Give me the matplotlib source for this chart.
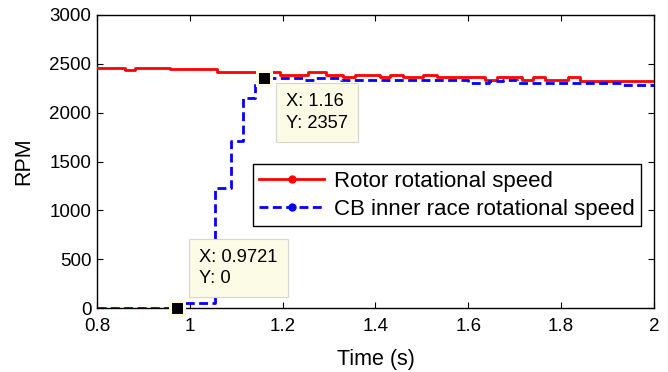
import matplotlib
matplotlib.use("Agg")
import matplotlib.pyplot as plt
from matplotlib.lines import Line2D
from matplotlib.ticker import FormatStrFormatter

plt.rcParams['font.family'] = ['Liberation Sans', 'DejaVu Sans']

# rotor speed (step changes)
rotor_t = [0.800, 0.860, 0.882, 0.957, 1.058, 1.195, 1.255, 1.293, 1.330, 1.355,
           1.410, 1.431, 1.459, 1.502, 1.532, 1.636, 1.662, 1.716, 1.739, 1.765,
           1.815, 1.840, 2.000]
rotor_rpm = [2455, 2440, 2458, 2445, 2415, 2390, 2415, 2390, 2365, 2390,
             2365, 2390, 2365, 2390, 2362, 2335, 2362, 2335, 2362, 2335,
             2362, 2325, 2325]

# CB inner race speed
inner_t = [0.800, 0.975, 1.054, 1.088, 1.114, 1.140, 1.160, 1.245, 1.270, 1.325,
           1.350, 1.600, 1.645, 1.675, 1.705, 1.933, 2.000]
inner_rpm = [0, 55, 1230, 1710, 2150, 2330, 2357, 2330, 2355, 2330,
             2335, 2300, 2325, 2330, 2300, 2283, 2270]

# data tips
tip_x = [0.9721, 1.16]
tip_y = [0, 2357]
tip_labels = ["X: 0.9721\nY: 0", "X: 1.16\nY: 2357"]

x_ticks = [0.8, 1.0, 1.2, 1.4, 1.6, 1.8, 2.0]
y_ticks = [0, 500, 1000, 1500, 2000, 2500, 3000]

fig = plt.figure(figsize=(6.68, 3.72), dpi=100)
ax = fig.add_axes([0.1452, 0.172, 0.8338, 0.7877])

ax.plot(rotor_t, rotor_rpm, color='#ff0000', lw=2.0, drawstyle='steps-post', zorder=3)
ax.plot(inner_t, inner_rpm, color='#0000ff', lw=2.0, ls='--', dashes=(3.2, 1.6),
        drawstyle='steps-post', zorder=3)

# data tip markers and boxes
ax.plot(tip_x, tip_y, ls='none', marker='s', ms=10, mfc='black', mec='#fbfbe0',
        mew=2.2, zorder=6, clip_on=False)
tip_style = dict(boxstyle='square,pad=0.55', fc='#fbfbe6', ec='#d6d6cc', lw=0.8)
ax.annotate(tip_labels[0], xy=(tip_x[0], tip_y[0]), xytext=(16, 15),
            textcoords='offset points', ha='left', va='bottom', fontsize=13.2,
            linespacing=1.35, bbox=tip_style, zorder=7)
ax.annotate(tip_labels[1], xy=(tip_x[1], tip_y[1]), xytext=(15.5, -11),
            textcoords='offset points', ha='left', va='top', fontsize=13.2,
            linespacing=1.35, bbox=tip_style, zorder=7)

ax.set_xlim(0.8, 2.0)
ax.set_ylim(0, 3000)
ax.set_xticks(x_ticks)
ax.set_yticks(y_ticks)
ax.xaxis.set_major_formatter(FormatStrFormatter('%g'))
ax.tick_params(direction='in', length=4, width=0.8, top=True, right=True,
               labelsize=13.5)
ax.tick_params(axis='x', pad=7.5)
ax.tick_params(axis='y', pad=4)
for s in ax.spines.values():
    s.set_linewidth(1.0)

ax.set_xlabel("Time (s)", fontsize=15.5, labelpad=10)
ax.set_ylabel("RPM", fontsize=15.5, labelpad=11)

handles = [Line2D([], [], color='#ff0000', lw=2.0, marker='.', ms=10),
           Line2D([], [], color='#0000ff', lw=2.0, ls='--', dashes=(3.2, 1.6),
                  marker='.', ms=10)]
leg = ax.legend(handles, ["Rotor rotational speed", "CB inner race rotational speed"],
                loc='upper right', bbox_to_anchor=(0.977, 0.49), fontsize=16,
                frameon=True, fancybox=False, edgecolor='black', framealpha=1,
                handlelength=2.9, handletextpad=0.45, labelspacing=0.3,
                borderpad=0.3, borderaxespad=0)
leg.get_frame().set_linewidth(1.0)
leg.set_zorder(5)

fig.savefig("out.png", dpi=100)
